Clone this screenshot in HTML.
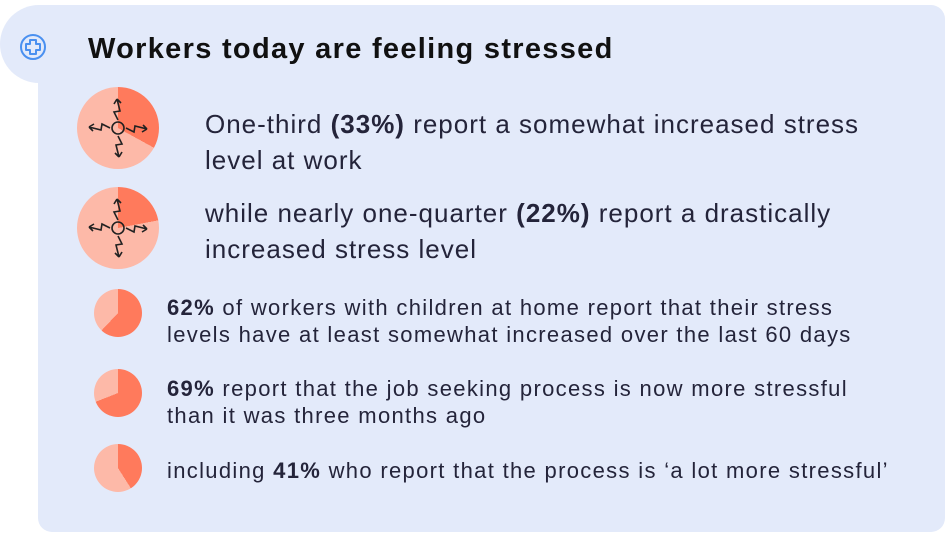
<!DOCTYPE html>
<html><head><style>
body{margin:0;width:950px;height:538px;background:#fff;position:relative;overflow:hidden;font-family:"Liberation Sans",sans-serif;color:#24243a}
.tab{position:absolute;left:0;top:5px;width:120px;height:78px;background:#e3eafa;border-radius:40px 0 0 40px}
.body{position:absolute;left:38px;top:5px;width:907px;height:527px;background:#e3eafa;border-radius:0 14px 14px 14px}
.t{position:absolute;white-space:nowrap}
.big{width:82px;height:82px;border-radius:50%;position:absolute}
.sm{width:48px;height:48px;border-radius:50%;position:absolute}
.bt{font-size:26px;line-height:36px;letter-spacing:1px}
.st{font-size:22px;line-height:27px;letter-spacing:1.32px}
</style></head><body>
<div class="tab"></div><div class="body"></div>
<svg style="position:absolute;left:18px;top:32px" width="30" height="30" viewBox="0 0 30 30"><circle cx="15" cy="15" r="12" fill="none" stroke="#4a90f0" stroke-width="2"/><path d="M12 8h6v4h4v6h-4v4h-6v-4h-4v-6h4z" fill="none" stroke="#4a90f0" stroke-width="2" stroke-linejoin="round"/></svg>
<div class="t" style="left:88px;top:33px;font-size:29px;font-weight:bold;color:#111;letter-spacing:1.3px">Workers today are feeling stressed</div>

<div class="big" style="left:77px;top:87px;background:conic-gradient(#ff7a5c 0 33%,#fdb9a8 0)"></div>
<div class="big" style="left:77px;top:187px;background:conic-gradient(#ff7a5c 0 22%,#fdb9a8 0)"></div>
<svg style="position:absolute;left:77px;top:87px" width="82" height="82" viewBox="0 0 82 82"><g fill="none" stroke="#222" stroke-width="1.6"><circle cx="41" cy="41" r="6"/><path d="M41 33 L37 25 L43 24 L40 12 M40 12 L37 17 M40 12 L44 16"/><path d="M41 49 L45 57 L39 58 L42 70 M42 70 L38 66 M42 70 L45 65"/><path d="M33 41 L25 37 L24 43 L12 40 M12 40 L17 37 M12 40 L16 44"/><path d="M49 41 L57 45 L58 39 L70 42 M70 42 L66 38 M70 42 L65 45"/></g></svg>
<svg style="position:absolute;left:77px;top:187px" width="82" height="82" viewBox="0 0 82 82"><g fill="none" stroke="#222" stroke-width="1.6"><circle cx="41" cy="41" r="6"/><path d="M41 33 L37 25 L43 24 L40 12 M40 12 L37 17 M40 12 L44 16"/><path d="M41 49 L45 57 L39 58 L42 70 M42 70 L38 66 M42 70 L45 65"/><path d="M33 41 L25 37 L24 43 L12 40 M12 40 L17 37 M12 40 L16 44"/><path d="M49 41 L57 45 L58 39 L70 42 M70 42 L66 38 M70 42 L65 45"/></g></svg>
<div class="t bt" style="left:205px;top:106px">One-third <b>(33%)</b> report a somewhat increased stress<br>level at work</div>
<div class="t bt" style="left:205px;top:195px">while nearly one-quarter <b>(22%)</b> report a drastically<br>increased stress level</div>

<div class="sm" style="left:94px;top:289px;background:conic-gradient(#ff7a5c 0 62%,#fdb9a8 0)"></div>
<div class="sm" style="left:94px;top:369px;background:conic-gradient(#ff7a5c 0 69%,#fdb9a8 0)"></div>
<div class="sm" style="left:94px;top:444px;background:conic-gradient(#ff7a5c 0 41%,#fdb9a8 0)"></div>
<div class="t st" style="left:167px;top:294px"><b>62%</b> of workers with children at home report that their stress<br>levels have at least somewhat increased over the last 60 days</div>
<div class="t st" style="left:167px;top:375px"><b>69%</b> report that the job seeking process is now more stressful<br>than it was three months ago</div>
<div class="t st" style="left:167px;top:457px">including <b>41%</b> who report that the process is ‘a lot more stressful’</div>
</body></html>
